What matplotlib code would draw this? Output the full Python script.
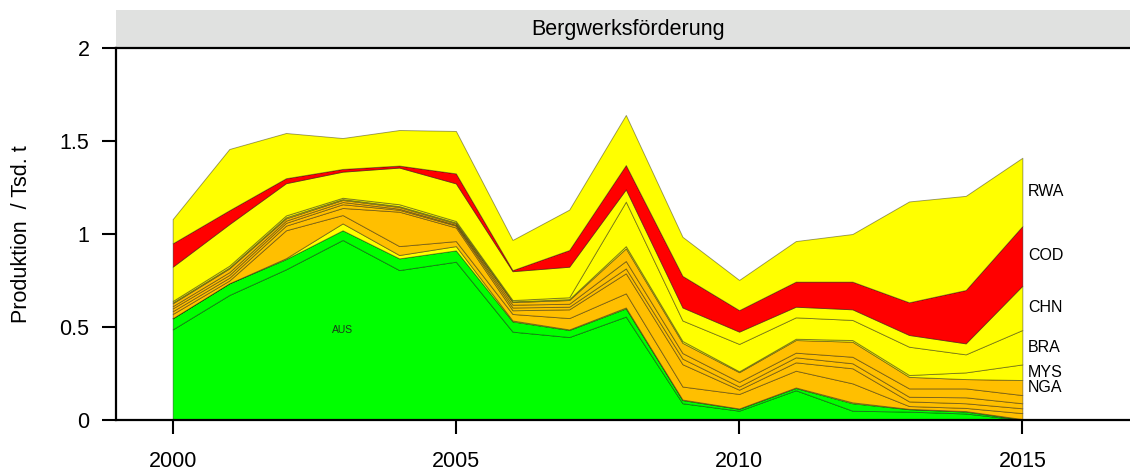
import numpy as np
import matplotlib
matplotlib.use("Agg")
import matplotlib.pyplot as plt
from matplotlib.patches import Rectangle

plt.rcParams['font.family'] = ['Liberation Sans', 'DejaVu Sans']

years = np.arange(2000, 2016)

# Produktion je Land in Tsd. t (von unten nach oben gestapelt)
aus = [0.487, 0.672, 0.81, 0.968, 0.806, 0.851, 0.475, 0.446, 0.556, 0.09, 0.05, 0.16, 0.05, 0.045, 0.035, 0.0]
oc2 = [0.06, 0.063, 0.055, 0.052, 0.063, 0.061, 0.055, 0.038, 0.044, 0.017, 0.01, 0.012, 0.04, 0.013, 0.01, 0.003]
yl0 = [0.0, 0.0, 0.005, 0.037, 0.018, 0.023, 0.005, 0.003, 0.005, 0.003, 0.002, 0.003, 0.005, 0.002, 0.003, 0.002]
or1 = [0.023, 0.015, 0.15, 0.045, 0.048, 0.027, 0.035, 0.061, 0.076, 0.07, 0.078, 0.09, 0.102, 0.015, 0.017, 0.032]
or2 = [0.015, 0.015, 0.025, 0.038, 0.185, 0.073, 0.02, 0.047, 0.108, 0.12, 0.023, 0.045, 0.081, 0.025, 0.025, 0.026]
or3 = [0.015, 0.015, 0.015, 0.02, 0.01, 0.01, 0.015, 0.014, 0.026, 0.03, 0.017, 0.027, 0.027, 0.025, 0.032, 0.027]
or4 = [0.012, 0.015, 0.012, 0.012, 0.006, 0.005, 0.015, 0.016, 0.04, 0.03, 0.025, 0.025, 0.035, 0.045, 0.048, 0.044]
nga = [0.015, 0.02, 0.012, 0.011, 0.009, 0.007, 0.014, 0.02, 0.068, 0.055, 0.052, 0.068, 0.081, 0.062, 0.05, 0.081]
mys = [0.005, 0.005, 0.006, 0.005, 0.005, 0.005, 0.004, 0.005, 0.012, 0.01, 0.005, 0.007, 0.009, 0.01, 0.036, 0.084]
bra = [0.008, 0.01, 0.01, 0.007, 0.01, 0.008, 0.007, 0.01, 0.239, 0.11, 0.147, 0.115, 0.108, 0.152, 0.097, 0.185]
chn = [0.184, 0.223, 0.173, 0.14, 0.197, 0.202, 0.155, 0.164, 0.066, 0.07, 0.066, 0.057, 0.057, 0.063, 0.059, 0.238]
cod = [0.126, 0.075, 0.027, 0.015, 0.011, 0.054, 0.006, 0.09, 0.131, 0.17, 0.116, 0.135, 0.149, 0.176, 0.287, 0.321]
rwa = [0.13, 0.329, 0.243, 0.166, 0.191, 0.228, 0.162, 0.217, 0.269, 0.21, 0.162, 0.218, 0.256, 0.542, 0.506, 0.367]

names = ["AUS", "", "", "", "", "", "", "NGA", "MYS", "BRA", "CHN", "COD", "RWA"]
series = [aus, oc2, yl0, or1, or2, or3, or4, nga, mys, bra, chn, cod, rwa]
green, orange, yellow, red = "#00FF00", "#FFBF00", "#FFFF00", "#FF0000"
colors = [green, green, yellow, orange, orange, orange, orange, orange,
          yellow, yellow, yellow, red, yellow]

fig = plt.figure(figsize=(11.3, 4.71), dpi=100)
ax = fig.add_axes([116 / 1130, 1 - 420 / 471, 1 - 116 / 1130, 372 / 471])

ax.stackplot(years, *series, colors=colors, edgecolor=(0, 0, 0, 0.4), linewidth=0.65)

# Beschriftungen rechts neben 2015
cum = np.cumsum(np.array(series), axis=0)
for i, name in enumerate(names):
    if not name or name == "AUS":
        continue
    lo = cum[i - 1, -1] if i > 0 else 0
    hi = cum[i, -1]
    ax.text(2015.1, (lo + hi) / 2, name, fontsize=11.5, ha="left", va="center")

imax = int(np.argmax(aus))
ax.text(years[imax], aus[imax] / 2, "AUS", fontsize=7.5, ha="center", va="center", color="#1a3a1a")

ax.set_xlim(1999, 2016.9)
ax.set_ylim(0, 2)
ax.set_xticks([2000, 2005, 2010, 2015])
ax.set_yticks([0, 0.5, 1, 1.5, 2])
ax.set_yticklabels(["0", "0.5", "1", "1.5", "2"])
ax.tick_params(axis="both", labelsize=15.5, length=10, width=1.5, pad=9)
ax.tick_params(axis="x", pad=12)
ax.set_ylabel("Produktion  / Tsd. t", fontsize=15.5, labelpad=20)

for s in ["left", "bottom", "top"]:
    ax.spines[s].set_linewidth(1.6)
ax.spines["right"].set_visible(False)

# Streifen mit Titel
strip_h = 38 / 372
ax.add_patch(Rectangle((0, 1), 1, strip_h, transform=ax.transAxes,
                       facecolor="#E0E1E0", edgecolor="none", clip_on=False))
ax.text(0.505, 1 + strip_h / 2, "Bergwerksförderung", transform=ax.transAxes,
        fontsize=15.5, ha="center", va="center")

fig.savefig("out.png", dpi=100)
